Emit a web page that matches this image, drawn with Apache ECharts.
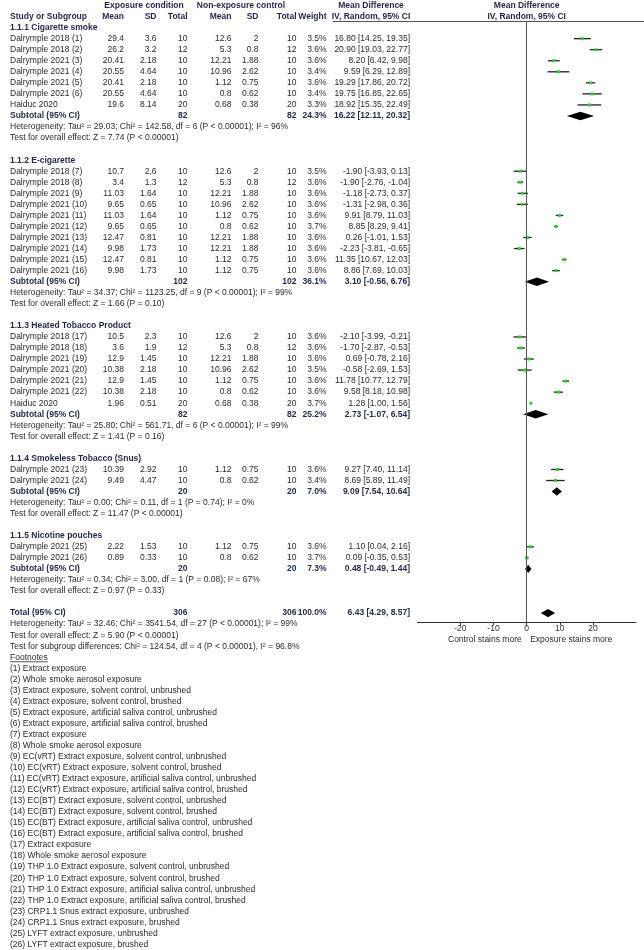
<!DOCTYPE html>
<html><head><meta charset="utf-8">
<script src="https://cdn.jsdelivr.net/npm/echarts@6/dist/echarts.min.js"></script>
<style>html,body{margin:0;padding:0;background:#fff}#c{width:644px;height:950px}</style>
</head><body><div id="c"></div>
<script>
// ================= DATA =================
const groupTitles = ['1.1.1 Cigarette smoke', '1.1.2 E-cigarette', '1.1.3 Heated Tobacco Product', '1.1.4 Smokeless Tobacco (Snus)', '1.1.5 Nicotine pouches'];
const groupSizes = [7, 10, 7, 2, 2];

const studyNames = [
  'Dalrymple 2018 (1)', 'Dalrymple 2018 (2)', 'Dalrymple 2021 (3)', 'Dalrymple 2021 (4)', 'Dalrymple 2021 (5)', 'Dalrymple 2021 (6)', 'Haiduc 2020',
  'Dalrymple 2018 (7)', 'Dalrymple 2018 (8)', 'Dalrymple 2021 (9)', 'Dalrymple 2021 (10)', 'Dalrymple 2021 (11)', 'Dalrymple 2021 (12)', 'Dalrymple 2021 (13)', 'Dalrymple 2021 (14)', 'Dalrymple 2021 (15)', 'Dalrymple 2021 (16)',
  'Dalrymple 2018 (17)', 'Dalrymple 2018 (18)', 'Dalrymple 2021 (19)', 'Dalrymple 2021 (20)', 'Dalrymple 2021 (21)', 'Dalrymple 2021 (22)', 'Haiduc 2020',
  'Dalrymple 2021 (23)', 'Dalrymple 2021 (24)',
  'Dalrymple 2021 (25)', 'Dalrymple 2021 (26)'
];
const expMean = [29.4, 26.2, 20.41, 20.55, 20.41, 20.55, 19.6, 10.7, 3.4, 11.03, 9.65, 11.03, 9.65, 12.47, 9.98, 12.47, 9.98, 10.5, 3.6, 12.9, 10.38, 12.9, 10.38, 1.96, 10.39, 9.49, 2.22, 0.89];
const expSD   = [3.6, 3.2, 2.18, 4.64, 2.18, 4.64, 8.14, 2.6, 1.3, 1.64, 0.65, 1.64, 0.65, 0.81, 1.73, 0.81, 1.73, 2.3, 1.9, 1.45, 2.18, 1.45, 2.18, 0.51, 2.92, 4.47, 1.53, 0.33];
const expN    = [10, 12, 10, 10, 10, 10, 20, 10, 12, 10, 10, 10, 10, 10, 10, 10, 10, 10, 12, 10, 10, 10, 10, 20, 10, 10, 10, 10];
const ctlMean = [12.6, 5.3, 12.21, 10.96, 1.12, 0.8, 0.68, 12.6, 5.3, 12.21, 10.96, 1.12, 0.8, 12.21, 12.21, 1.12, 1.12, 12.6, 5.3, 12.21, 10.96, 1.12, 0.8, 0.68, 1.12, 0.8, 1.12, 0.8];
const ctlSD   = [2, 0.8, 1.88, 2.62, 0.75, 0.62, 0.38, 2, 0.8, 1.88, 2.62, 0.75, 0.62, 1.88, 1.88, 0.75, 0.75, 2, 0.8, 1.88, 2.62, 0.75, 0.62, 0.38, 0.75, 0.62, 0.75, 0.62];
const ctlN    = [10, 12, 10, 10, 10, 10, 20, 10, 12, 10, 10, 10, 10, 10, 10, 10, 10, 10, 12, 10, 10, 10, 10, 20, 10, 10, 10, 10];
const weights = [3.5, 3.6, 3.6, 3.4, 3.6, 3.4, 3.3, 3.5, 3.6, 3.6, 3.6, 3.6, 3.7, 3.6, 3.6, 3.6, 3.6, 3.6, 3.6, 3.6, 3.5, 3.6, 3.6, 3.7, 3.6, 3.4, 3.6, 3.7];
const md      = [16.80, 20.90, 8.20, 9.59, 19.29, 19.75, 18.92, -1.90, -1.90, -1.18, -1.31, 9.91, 8.85, 0.26, -2.23, 11.35, 8.86, -2.10, -1.70, 0.69, -0.58, 11.78, 9.58, 1.28, 9.27, 8.69, 1.10, 0.09];
const mdLo    = [14.25, 19.03, 6.42, 6.29, 17.86, 16.85, 15.35, -3.93, -2.76, -2.73, -2.98, 8.79, 8.29, -1.01, -3.81, 10.67, 7.69, -3.99, -2.87, -0.78, -2.69, 10.77, 8.18, 1.00, 7.40, 5.89, 0.04, -0.35];
const mdHi    = [19.35, 22.77, 9.98, 12.89, 20.72, 22.65, 22.49, 0.13, -1.04, 0.37, 0.36, 11.03, 9.41, 1.53, -0.65, 12.03, 10.03, -0.21, -0.53, 2.16, 1.53, 12.79, 10.98, 1.56, 11.14, 11.49, 2.16, 0.53];

const subExpN   = [82, 102, 82, 20, 20];
const subCtlN   = [82, 102, 82, 20, 20];
const subWeight = [24.3, 36.1, 25.2, 7.0, 7.3];
const subMD     = [16.22, 3.10, 2.73, 9.09, 0.48];
const subLo     = [12.11, -0.56, -1.07, 7.54, -0.49];
const subHi     = [20.32, 6.76, 6.54, 10.64, 1.44];
const subHet = [
  'Heterogeneity: Tau² = 29.03; Chi² = 142.58, df = 6 (P < 0.00001); I² = 96%',
  'Heterogeneity: Tau² = 34.37; Chi² = 1123.25, df = 9 (P < 0.00001); I² = 99%',
  'Heterogeneity: Tau² = 25.80; Chi² = 561.71, df = 6 (P < 0.00001); I² = 99%',
  'Heterogeneity: Tau² = 0.00; Chi² = 0.11, df = 1 (P = 0.74); I² = 0%',
  'Heterogeneity: Tau² = 0.34; Chi² = 3.00, df = 1 (P = 0.08); I² = 67%'
];
const subTest = [
  'Test for overall effect: Z = 7.74 (P < 0.00001)',
  'Test for overall effect: Z = 1.66 (P = 0.10)',
  'Test for overall effect: Z = 1.41 (P = 0.16)',
  'Test for overall effect: Z = 11.47 (P < 0.00001)',
  'Test for overall effect: Z = 0.97 (P = 0.33)'
];

const totalExpN = 306, totalCtlN = 306, totalWeight = 100.0;
const totalMD = 6.43, totalLo = 4.29, totalHi = 8.57;
const totalNotes = [
  'Heterogeneity: Tau² = 32.46; Chi² = 3541.54, df = 27 (P < 0.00001); I² = 99%',
  'Test for overall effect: Z = 5.90 (P < 0.00001)',
  'Test for subgroup differences: Chi² = 124.54, df = 4 (P < 0.00001), I² = 96.8%'
];

const footnotes = [
  '(1) Extract exposure', '(2) Whole smoke aerosol exposure',
  '(3) Extract exposure, solvent control, unbrushed', '(4) Extract exposure, solvent control, brushed',
  '(5) Extract exposure, artificial saliva control, unbrushed', '(6) Extract exposure, artificial saliva control, brushed',
  '(7) Extract exposure', '(8) Whole smoke aerosol exposure',
  '(9) EC(vRT) Extract exposure, solvent control, unbrushed', '(10) EC(vRT) Extract exposure, solvent control, brushed',
  '(11) EC(vRT) Extract exposure, artificial saliva control, unbrushed', '(12) EC(vRT) Extract exposure, artificial saliva control, brushed',
  '(13) EC(BT) Extract exposure, solvent control, unbrushed', '(14) EC(BT) Extract exposure, solvent control, brushed',
  '(15) EC(BT) Extract exposure, artificial saliva control, unbrushed', '(16) EC(BT) Extract exposure, artificial saliva control, brushed',
  '(17) Extract exposure', '(18) Whole smoke aerosol exposure',
  '(19) THP 1.0 Extract exposure, solvent control, unbrushed', '(20) THP 1.0 Extract exposure, solvent control, brushed',
  '(21) THP 1.0 Extract exposure, artificial saliva control, unbrushed', '(22) THP 1.0 Extract exposure, artificial saliva control, brushed',
  '(23) CRP1.1 Snus extract exposure, unbrushed', '(24) CRP1.1 Snus extract exposure, brushed',
  '(25) LYFT extract exposure, unbrushed', '(26) LYFT extract exposure, brushed'
];

const axisTicks = [-20, -10, 0, 10, 20];
const axisRange = [-33, 33];
const leftCaption = 'Control stains more';
const rightCaption = 'Exposure stains more';

// ================= LAYOUT / STYLE =================
const W = 644, H = 950;
const P = H / 86;                 // row pitch
const K0 = -2.5;                  // row value at top edge
const kOf = py => K0 + py / P;
const COL = { name: 10, eMean: 124, eSD: 156.5, eN: 187.5, cMean: 231.5, cSD: 258.5, cN: 296.5, wt: 326.5, md: 410,
              expHead: 144, ctlHead: 241, mdHead: 371, plot: 526.7 };
const FAM = '"Liberation Sans", Arial, sans-serif';
const FS = 8.5;
const C_NORM = '#2a2a2a', C_BOLD = '#1f2748';
const PLOT_LEFT = 417.3, PLOT_RIGHT = 636, PLOT_TOP = 21, PLOT_BOTTOM = 622.3;

const items = [];
function T(x, k, s, a, bold, extra) { items.push(Object.assign({ x, k, s, a: a || 'left', b: !!bold }, extra || {})); }
const f2 = v => v.toFixed(2);
const fmtMD = (m, l, h) => f2(m) + ' [' + f2(l) + ', ' + f2(h) + ']';

// header
T(COL.expHead, -2, 'Exposure condition', 'center', true);
T(COL.ctlHead, -2, 'Non-exposure control', 'center', true);
T(COL.mdHead, -2, 'Mean Difference', 'center', true);
T(COL.plot, -2, 'Mean Difference', 'center', true);
T(COL.name, -1, 'Study or Subgroup', 'left', true);
T(COL.eMean, -1, 'Mean', 'right', true);
T(COL.eSD, -1, 'SD', 'right', true);
T(COL.eN, -1, 'Total', 'right', true);
T(COL.cMean, -1, 'Mean', 'right', true);
T(COL.cSD, -1, 'SD', 'right', true);
T(COL.cN, -1, 'Total', 'right', true);
T(COL.wt, -1, 'Weight', 'right', true);
T(COL.mdHead, -1, 'IV, Random, 95% CI', 'center', true);
T(COL.plot, -1, 'IV, Random, 95% CI', 'center', true);

const ciData = [], dmData = [];
let k = 0, s = 0;
groupTitles.forEach((title, g) => {
  T(COL.name, k, title, 'left', true); k++;
  for (let j = 0; j < groupSizes[g]; j++, s++, k++) {
    T(COL.name, k, studyNames[s]);
    T(COL.eMean, k, String(expMean[s]), 'right');
    T(COL.eSD, k, String(expSD[s]), 'right');
    T(COL.eN, k, String(expN[s]), 'right');
    T(COL.cMean, k, String(ctlMean[s]), 'right');
    T(COL.cSD, k, String(ctlSD[s]), 'right');
    T(COL.cN, k, String(ctlN[s]), 'right');
    T(COL.wt, k, weights[s].toFixed(1) + '%', 'right');
    T(COL.md, k, fmtMD(md[s], mdLo[s], mdHi[s]), 'right');
    ciData.push([md[s], k, mdLo[s], mdHi[s]]);
  }
  T(COL.name, k, 'Subtotal (95% CI)', 'left', true);
  T(COL.eN, k, String(subExpN[g]), 'right', true);
  T(COL.cN, k, String(subCtlN[g]), 'right', true);
  T(COL.wt, k, subWeight[g].toFixed(1) + '%', 'right', true);
  T(COL.md, k, fmtMD(subMD[g], subLo[g], subHi[g]), 'right', true);
  dmData.push([subMD[g], k, subLo[g], subHi[g]]);
  k++;
  T(COL.name, k, subHet[g]); k++;
  T(COL.name, k, subTest[g]); k++;
  k++;
});
T(COL.name, k, 'Total (95% CI)', 'left', true);
T(COL.eN, k, String(totalExpN), 'right', true);
T(COL.cN, k, String(totalCtlN), 'right', true);
T(COL.wt, k, totalWeight.toFixed(1) + '%', 'right', true);
T(COL.md, k, fmtMD(totalMD, totalLo, totalHi), 'right', true);
dmData.push([totalMD, k, totalLo, totalHi]);
k++;
totalNotes.forEach(t => { T(COL.name, k, t); k++; });
T(COL.name, k, 'Footnotes', 'left', false, { u: true }); k++;
footnotes.forEach(t => { T(COL.name, k, t); k++; });
// axis captions
T(COL.plot - 5, kOf(639.3), leftCaption, 'right');
T(COL.plot + 3.5, kOf(639.3), rightCaption, 'left');

const mctx = document.createElement('canvas').getContext('2d');
function fontOf(b) { return (b ? 'bold ' : '') + FS + 'px ' + FAM; }

const chart = echarts.init(document.getElementById('c'), null, { renderer: 'canvas' });
chart.setOption({
  animation: false,
  backgroundColor: '#fff',
  grid: [
    { left: 0, right: 0, top: 0, bottom: 0 },
    { left: PLOT_LEFT, right: W - PLOT_RIGHT, top: PLOT_TOP, bottom: H - PLOT_BOTTOM }
  ],
  xAxis: [
    { gridIndex: 0, type: 'value', min: 0, max: W, show: false },
    { gridIndex: 1, type: 'value', min: axisRange[0], max: axisRange[1],
      axisLine: { onZero: false, lineStyle: { color: '#333', width: 1 } },
      axisTick: { show: true, customValues: axisTicks, length: 3, lineStyle: { color: '#333' } },
      axisLabel: { customValues: axisTicks, margin: 2, fontSize: FS, fontFamily: FAM, color: '#333' },
      splitLine: { show: false } }
  ],
  yAxis: [
    { gridIndex: 0, type: 'value', inverse: true, min: K0, max: K0 + 86, show: false },
    { gridIndex: 1, type: 'value', inverse: true, min: kOf(PLOT_TOP), max: kOf(PLOT_BOTTOM), show: false }
  ],
  graphic: [
    { type: 'line', shape: { x1: 333, y1: 21.5, x2: W, y2: 21.5 }, style: { stroke: '#555', lineWidth: 1 }, silent: true }
  ],
  series: [
    { type: 'custom', xAxisIndex: 0, yAxisIndex: 0, clip: false, silent: true,
      data: items.map(t => [t.x, t.k]),
      renderItem(params, api) {
        const t = items[params.dataIndex];
        const p = api.coord([api.value(0), api.value(1)]);
        const font = fontOf(t.b);
        const txt = { type: 'text', x: p[0], y: p[1],
          style: { text: t.s, font, fill: t.b ? C_BOLD : C_NORM,
                   textAlign: t.a, align: t.a, textVerticalAlign: 'middle', verticalAlign: 'middle' } };
        if (!t.u) return txt;
        mctx.font = font;
        const w = mctx.measureText(t.s).width;
        return { type: 'group', children: [txt,
          { type: 'line', shape: { x1: p[0], y1: p[1] + 4.5, x2: p[0] + w, y2: p[1] + 4.5 }, style: { stroke: C_NORM, lineWidth: 0.8 } }] };
      }
    },
    { type: 'custom', xAxisIndex: 1, yAxisIndex: 1, silent: true,
      data: ciData,
      renderItem(params, api) {
        const pm = api.coord([api.value(0), api.value(1)]);
        const pl = api.coord([api.value(2), api.value(1)]);
        const ph = api.coord([api.value(3), api.value(1)]);
        return { type: 'group', children: [
          { type: 'line', shape: { x1: pl[0], y1: pm[1], x2: ph[0], y2: pm[1] }, style: { stroke: '#222', lineWidth: 1.3 } },
          { type: 'rect', shape: { x: pm[0] - 1.5, y: pm[1] - 1.5, width: 3, height: 3 }, style: { fill: '#2fcf2f' } }
        ] };
      },
      markLine: { silent: true, symbol: 'none', label: { show: false },
        lineStyle: { color: '#555', width: 1, type: 'solid' }, data: [{ xAxis: 0 }] }
    },
    { type: 'custom', xAxisIndex: 1, yAxisIndex: 1, silent: true,
      data: dmData,
      renderItem(params, api) {
        const pm = api.coord([api.value(0), api.value(1)]);
        const pl = api.coord([api.value(2), api.value(1)]);
        const ph = api.coord([api.value(3), api.value(1)]);
        const y = pm[1], h = 4.2;
        return { type: 'polygon', shape: { points: [[pl[0], y], [pm[0], y - h], [ph[0], y], [pm[0], y + h]] },
                 style: { fill: '#000' } };
      }
    }
  ]
});
</script></body></html>
